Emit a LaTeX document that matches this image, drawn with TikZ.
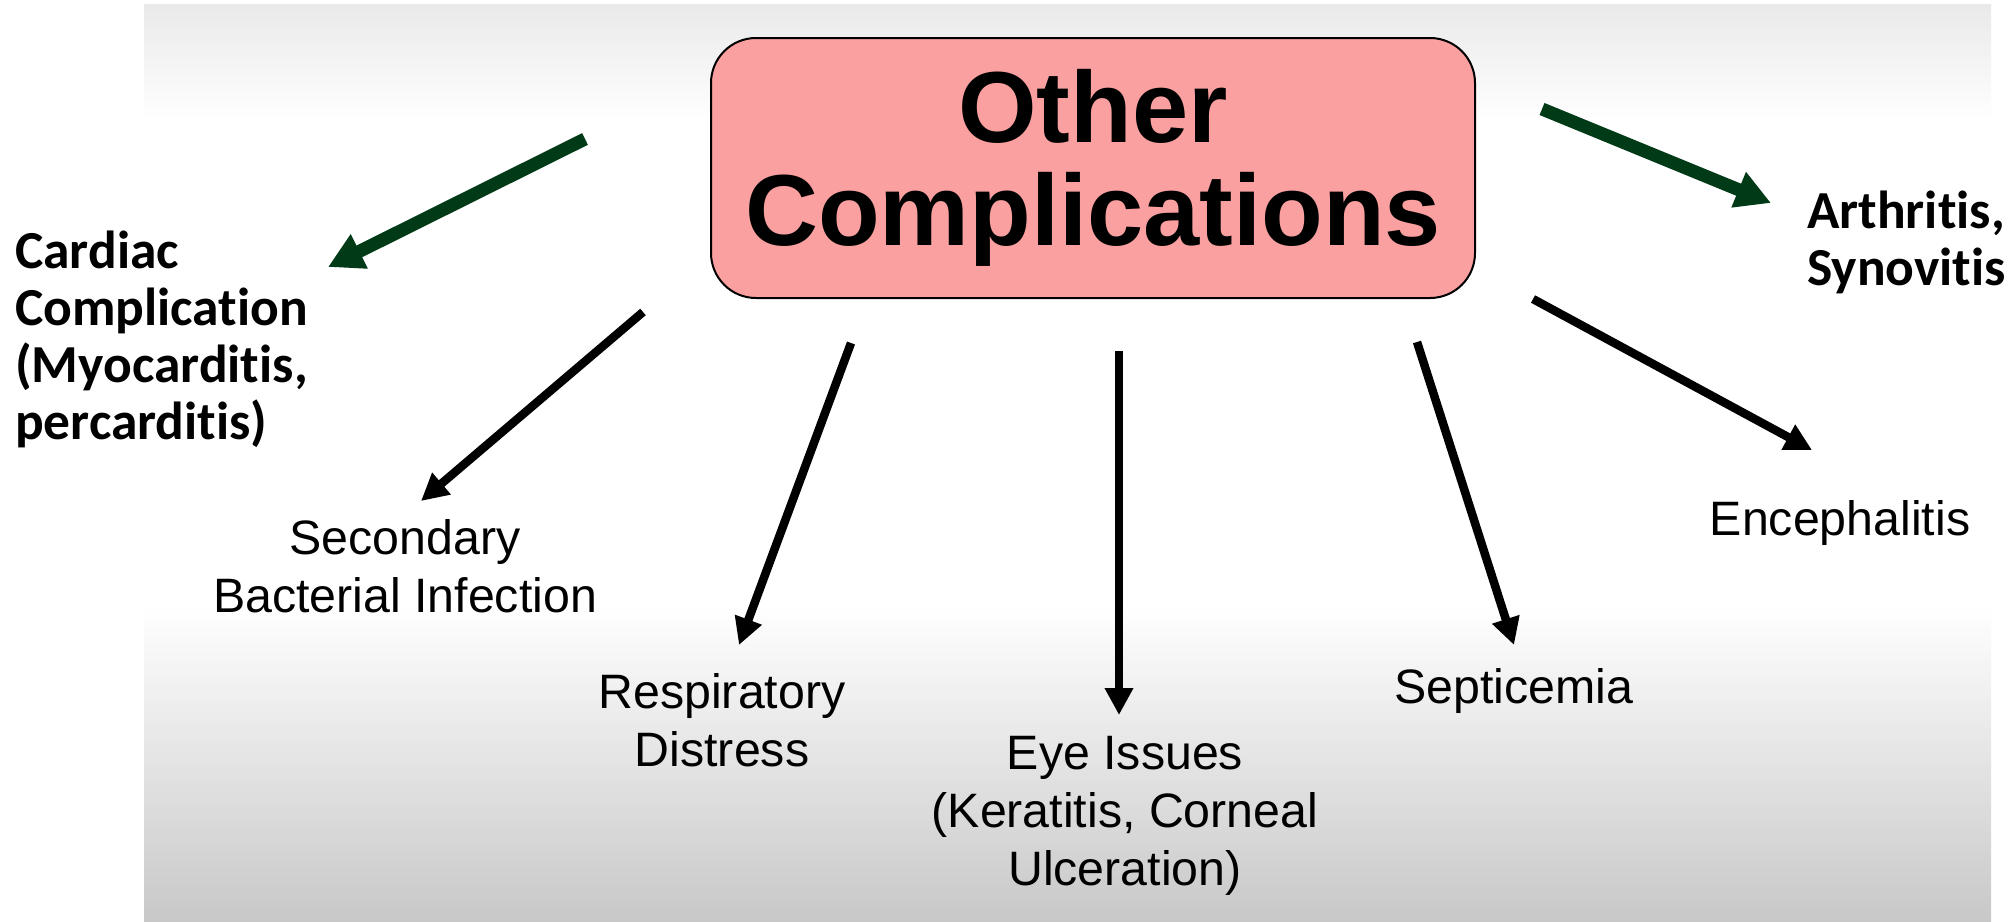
\documentclass[tikz,border=0pt]{standalone}
\usepackage{fontspec}
\setmainfont{Liberation Sans}
\newfontfamily\calfont[RawFeature={-liga;-clig;-calt;-dlig}]{Carlito}
\usetikzlibrary{arrows.meta}
\definecolor{boxpink}{RGB}{250,160,160}
\definecolor{arrgreen}{RGB}{0,58,23}
\definecolor{topgray}{RGB}{233,233,233}
\definecolor{botgray}{RGB}{200,200,200}
\begin{document}
\begin{tikzpicture}[x=1pt,y=-1pt,
  titlebox/.style={draw=black, line width=2pt, fill=boxpink, rounded corners=45pt,
    minimum width=764pt, minimum height=260pt, align=center, inner sep=0pt,
    font=\fontsize{101}{103}\selectfont\bfseries},
  lbl/.style={align=center, inner sep=0pt, font=\fontsize{48.3}{58}\selectfont},
  blbl/.style={align=left, inner sep=0pt, anchor=west,
    font=\calfont\fontsize{53.5}{57}\selectfont\bfseries},
  blackarrow/.style={draw=black, line width=8.5pt, -{Triangle[length=27pt,width=27pt]}},
  greenarrow/.style={draw=arrgreen, line width=13pt, -{Triangle[length=35pt,width=36pt]}}
]
\useasboundingbox (0,0) rectangle (2015,921);
\fill[white] (0,0) rectangle (2015,921);
\shade[top color=topgray, bottom color=white] (144,4) rectangle (1991,120);
\shade[top color=white, bottom color=botgray] (144,605) rectangle (1991,921);

\node[titlebox] (title) at (1093,168) {Other\\Complications};

\node[blbl] (cardiac) at (15,339) {Cardiac\\Complication\\(Myocarditis,\\percarditis)};
\node[blbl] (arthritis) at (1807,242) {Arthritis,\\Synovitis};
\node[lbl] (secondary) at (405,566) {Secondary\\Bacterial Infection};
\node[lbl] (resp) at (722,720) {Respiratory\\Distress};
\node[lbl] (eye) at (1125,816) {Eye Issues\\(Keratitis, Corneal\\Ulceration)};
\node[lbl] (sept) at (1514,691) {Septicemia};
\node[lbl] (enceph) at (1840,523) {Encephalitis};

\coordinate (t1) at (585,139);  \coordinate (h1) at (328,267);
\coordinate (t2) at (1542,109); \coordinate (h2) at (1771,203);
\coordinate (t3) at (643,312);  \coordinate (h3) at (421,501);
\coordinate (t4) at (851,343);  \coordinate (h4) at (739,645);
\coordinate (t5) at (1119,351); \coordinate (h5) at (1119,715);
\coordinate (t6) at (1417,342); \coordinate (h6) at (1514,645);
\coordinate (t7) at (1533,299); \coordinate (h7) at (1812,450);

\draw[greenarrow] (t1) -- (h1);
\draw[greenarrow] (t2) -- (h2);
\draw[blackarrow] (t3) -- (h3);
\draw[blackarrow] (t4) -- (h4);
\draw[blackarrow] (t5) -- (h5);
\draw[blackarrow] (t6) -- (h6);
\draw[blackarrow] (t7) -- (h7);
\end{tikzpicture}
\end{document}
